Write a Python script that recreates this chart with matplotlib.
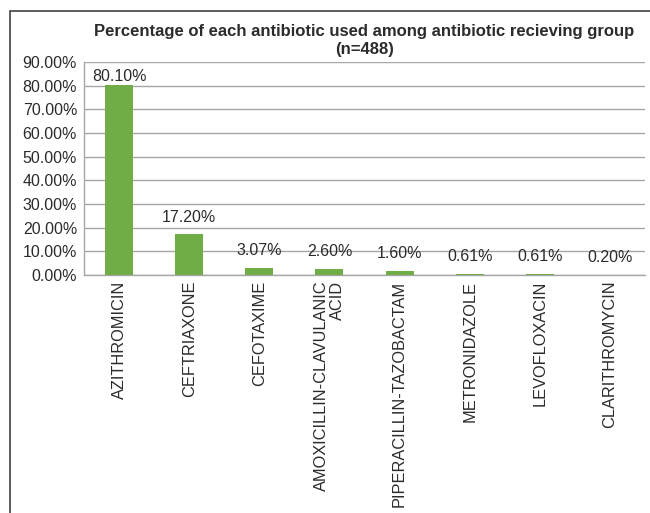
import matplotlib.pyplot as plt
from matplotlib.patches import Rectangle
from matplotlib.ticker import FuncFormatter

plt.rcParams['font.family'] = ['Liberation Sans', 'DejaVu Sans']

# data
drugs = ['AZITHROMICIN', 'CEFTRIAXONE', 'CEFOTAXIME', 'AMOXICILLIN-CLAVULANIC\nACID',
         'PIPERACILLIN-TAZOBACTAM', 'METRONIDAZOLE', 'LEVOFLOXACIN', 'CLARITHROMYCIN']
percents = [80.10, 17.20, 3.07, 2.60, 1.60, 0.61, 0.61, 0.20]
yticks = [0, 10, 20, 30, 40, 50, 60, 70, 80, 90]

text_col = '#2b2b2b'
grid_col = '#a6a6a6'

fig = plt.figure(figsize=(6.5, 5.13), dpi=100)
ax = fig.add_axes([84/650, 1 - 275/513, (645 - 84)/650, (275 - 62)/513])

x = range(len(drugs))
bars = ax.bar(x, percents, width=0.4, color='#70ad47', zorder=3)

ax.set_xlim(-0.5, len(drugs) - 0.5)
ax.set_ylim(0, 90)
ax.set_yticks(yticks)
ax.yaxis.set_major_formatter(FuncFormatter(lambda v, p: f'{v:.2f}%'))
ax.grid(axis='y', color=grid_col, linewidth=1, zorder=0)
ax.set_xticks(list(x))
ax.set_xticklabels(drugs, rotation=90, va='top', ha='center', multialignment='right',
                   linespacing=1.1)
ax.tick_params(axis='both', length=0, colors=text_col)
ax.tick_params(axis='x', pad=4, labelsize=11.8)
ax.tick_params(axis='y', pad=5, labelsize=11.5)

for s in ['top', 'right']:
    ax.spines[s].set_visible(False)
for s in ['left', 'bottom']:
    ax.spines[s].set_color(grid_col)
    ax.spines[s].set_linewidth(1)

# value labels above bars, kept inside the plot area like excel does
for b, v in zip(bars, percents):
    off = 7 if v < 75 else 1
    ax.annotate(f'{v:.2f}%', (b.get_x() + b.get_width()/2, v), xytext=(0, off),
                textcoords='offset points', ha='center', va='bottom',
                fontsize=11.5, color=text_col)

ax.set_title('Percentage of each antibiotic used among antibiotic recieving group\n(n=488)',
             fontsize=12, fontweight='bold', color=text_col, pad=6, linespacing=1.2)

# outer chart border (cut by the image edge on right and bottom)
fig.patches.append(Rectangle((9.5/650, -0.1), 1.0, 1 - 11/513 + 0.1,
                             transform=fig.transFigure, fill=False,
                             edgecolor='#404040', linewidth=1.2, clip_on=False))

fig.savefig('out.png', dpi=100)
